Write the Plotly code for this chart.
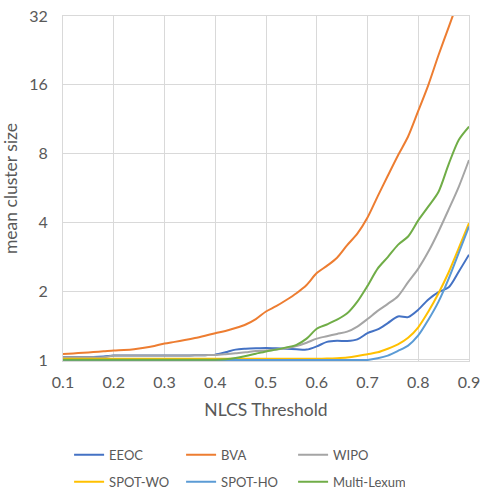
import plotly.graph_objects as go
import math

thresholds = [round(0.10 + 0.02 * i, 2) for i in range(41)]

eeoc = [1.03, 1.03, 1.03, 1.03, 1.035, 1.045, 1.047, 1.047, 1.047, 1.047,
        1.047, 1.047, 1.047, 1.048, 1.05, 1.055, 1.08, 1.11, 1.12, 1.125,
        1.128, 1.125, 1.12, 1.115, 1.11, 1.147, 1.20, 1.214, 1.21, 1.23,
        1.31, 1.36, 1.45, 1.55, 1.54, 1.66, 1.84, 1.98, 2.08, 2.44, 2.89]

bva = [1.062, 1.068, 1.075, 1.083, 1.091, 1.10, 1.106, 1.115, 1.13, 1.152,
       1.18, 1.20, 1.222, 1.247, 1.277, 1.31, 1.34, 1.38, 1.43, 1.51,
       1.63, 1.72, 1.83, 1.96, 2.13, 2.40, 2.58, 2.80, 3.18, 3.57,
       4.2, 5.2, 6.4, 7.85, 9.5, 12.3, 16.0, 21.6, 28.6, 38.0, 50.0]

wipo = [1.027, 1.027, 1.027, 1.027, 1.027, 1.045, 1.046, 1.046, 1.046, 1.046,
        1.046, 1.047, 1.047, 1.048, 1.05, 1.052, 1.06, 1.07, 1.08, 1.095,
        1.10, 1.11, 1.125, 1.15, 1.19, 1.24, 1.27, 1.30, 1.33, 1.40,
        1.51, 1.64, 1.76, 1.90, 2.19, 2.51, 2.98, 3.65, 4.56, 5.74, 7.5]

spot_wo = [1.012] * 26 + [1.014, 1.018, 1.025, 1.04, 1.06, 1.08, 1.12, 1.17,
                          1.25, 1.39, 1.63, 1.96, 2.42, 3.09, 3.97]

spot_ho = [1.0] * 31 + [1.017, 1.045, 1.095, 1.155, 1.28, 1.50, 1.80, 2.27,
                        2.95, 3.84]

multi_lexum = [1.003] * 16 + [1.008, 1.02, 1.04, 1.065, 1.09, 1.11, 1.135,
                              1.165, 1.24, 1.37, 1.43, 1.50, 1.60, 1.80, 2.11,
                              2.51, 2.82, 3.19, 3.47, 4.08, 4.7, 5.45, 7.2,
                              9.2, 10.5]

series_names = ["EEOC", "BVA", "WIPO", "SPOT-WO", "SPOT-HO", "Multi-Lexum"]
series_values = [eeoc, bva, wipo, spot_wo, spot_ho, multi_lexum]
series_colors = ["#4472C4", "#ED7D31", "#A5A5A5", "#FFC000", "#5B9BD5", "#70AD47"]

x_ticks = [0.1, 0.2, 0.3, 0.4, 0.5, 0.6, 0.7, 0.8, 0.9]
x_tick_labels = ["0.1", "0.2", "0.3", "0.4", "0.5", "0.6", "0.7", "0.8", "0.9"]
y_ticks = [1, 2, 4, 8, 16, 32]
y_tick_labels = ["1", "2", "4", "8", "16", "32"]

FONT = "Lato, 'Open Sans', sans-serif"
TXT = "#595959"
GRID = "#D9D9D9"

fig = go.Figure()
for i, (name, vals, col) in enumerate(zip(series_names, series_values, series_colors)):
    fig.add_trace(go.Scatter(
        x=thresholds, y=vals, name=name, mode="lines",
        line=dict(color=col, width=2, shape="spline", smoothing=0.8),
        legend="legend" if i < 3 else "legend2",
    ))

legend_common = dict(
    orientation="h", xanchor="left", yanchor="middle",
    entrywidth=67, entrywidthmode="pixels",
    font=dict(family=FONT, size=13, color=TXT),
    bgcolor="rgba(0,0,0,0)", itemwidth=30,
)

fig.update_layout(
    width=481, height=496,
    margin=dict(l=63, r=12, t=16, b=135, autoexpand=False),
    paper_bgcolor="white", plot_bgcolor="white",
    font=dict(family=FONT, color=TXT),
    hovermode=False,
    legend=dict(x=0.015, y=-0.272, **legend_common),
    legend2=dict(x=0.015, y=-0.35, **legend_common),
    xaxis=dict(
        range=[0.1, 0.9], tickvals=x_ticks, ticktext=x_tick_labels,
        showgrid=True, gridcolor=GRID, gridwidth=1,
        showline=True, linecolor=GRID, linewidth=1, mirror=True,
        zeroline=False, ticks="", ticklabelstandoff=7,
        ticklabeloverflow="allow",
        tickfont=dict(family=FONT, size=16, color=TXT),
        title=dict(text="NLCS Threshold", standoff=13,
                   font=dict(family=FONT, size=17.5, color=TXT)),
    ),
    yaxis=dict(
        type="log", range=[-0.0045, math.log10(32)],
        tickvals=y_ticks, ticktext=y_tick_labels,
        showgrid=True, gridcolor=GRID, gridwidth=1,
        showline=True, linecolor=GRID, linewidth=1, mirror=True,
        zeroline=False, ticks="", ticklabelstandoff=11,
        ticklabeloverflow="allow",
        tickfont=dict(family=FONT, size=16, color=TXT),
        title=dict(text="mean cluster size", standoff=13,
                   font=dict(family=FONT, size=17.5, color=TXT)),
    ),
)

fig.write_html(
    "out.html",
    config={"displayModeBar": False},
    post_script="document.body.style.margin='0';document.body.style.overflow='hidden';",
)
